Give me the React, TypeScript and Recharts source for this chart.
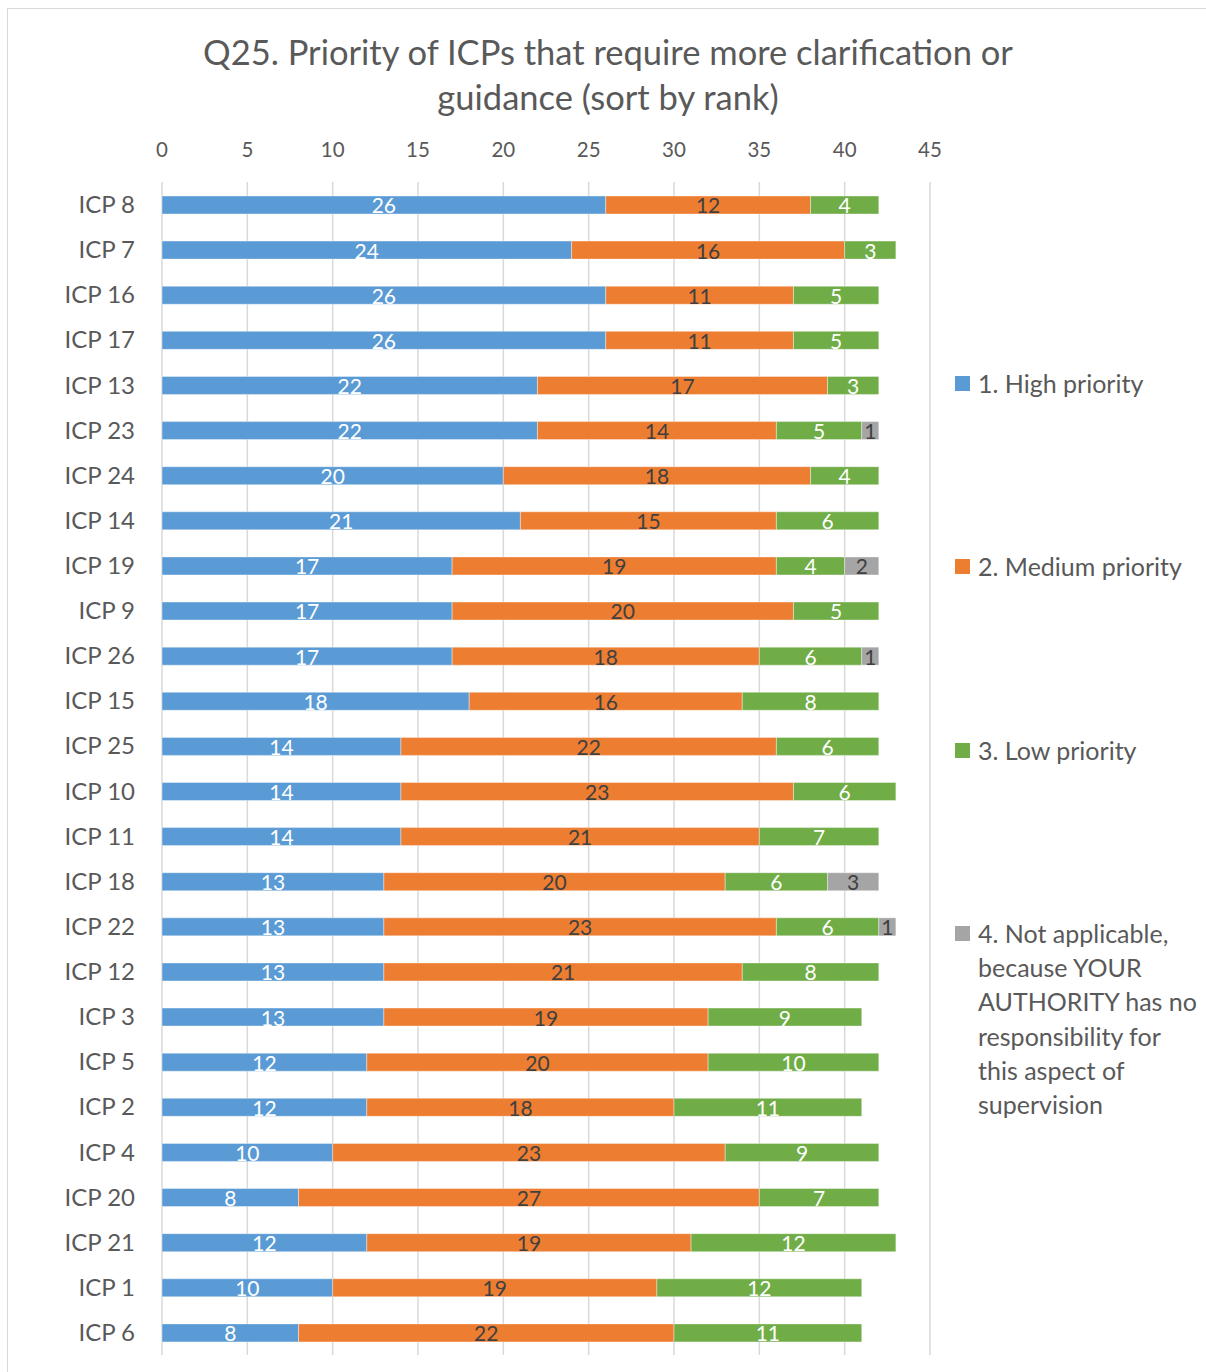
import React from "react";
import {
  BarChart,
  Bar,
  XAxis,
  YAxis,
  CartesianGrid,
  LabelList,
} from "recharts";

const categories = [
  "ICP 8", "ICP 7", "ICP 16", "ICP 17", "ICP 13", "ICP 23", "ICP 24",
  "ICP 14", "ICP 19", "ICP 9", "ICP 26", "ICP 15", "ICP 25", "ICP 10",
  "ICP 11", "ICP 18", "ICP 22", "ICP 12", "ICP 3", "ICP 5", "ICP 2",
  "ICP 4", "ICP 20", "ICP 21", "ICP 1", "ICP 6",
];
const high = [26, 24, 26, 26, 22, 22, 20, 21, 17, 17, 17, 18, 14, 14, 14, 13, 13, 13, 13, 12, 12, 10, 8, 12, 10, 8];
const medium = [12, 16, 11, 11, 17, 14, 18, 15, 19, 20, 18, 16, 22, 23, 21, 20, 23, 21, 19, 20, 18, 23, 27, 19, 19, 22];
const low = [4, 3, 5, 5, 3, 5, 4, 6, 4, 5, 6, 8, 6, 6, 7, 6, 6, 8, 9, 10, 11, 9, 7, 12, 12, 11];
const notApplicable = [0, 0, 0, 0, 0, 1, 0, 0, 2, 0, 1, 0, 0, 0, 0, 3, 1, 0, 0, 0, 0, 0, 0, 0, 0, 0];
const xTicks = [0, 5, 10, 15, 20, 25, 30, 35, 40, 45];

const series = [
  { key: "high", lines: ["1. High priority"], color: "#5b9bd5", text: "#ffffff" },
  { key: "medium", lines: ["2. Medium priority"], color: "#ed7d31", text: "#404040" },
  { key: "low", lines: ["3. Low priority"], color: "#70ad47", text: "#ffffff" },
  {
    key: "na",
    lines: [
      "4. Not applicable,",
      "because YOUR",
      "AUTHORITY has no",
      "responsibility for",
      "this aspect of",
      "supervision",
    ],
    color: "#a5a5a5",
    text: "#404040",
  },
];

const rows = categories.map((name, i) => ({
  name,
  high: high[i],
  medium: medium[i],
  low: low[i],
  na: notApplicable[i],
}));

const FONT = "Lato, 'Open Sans', sans-serif";
const GREY = "#595959";

const legendTops = [366, 549, 733, 916];

export default function App() {
  return (
    <div
      style={{
        position: "absolute",
        left: 0,
        top: 0,
        width: 1206,
        height: 1372,
        background: "#fff",
        overflow: "hidden",
        fontFamily: FONT,
      }}
    >
      <div
        style={{
          position: "absolute",
          left: 7,
          top: 8,
          width: 1220,
          height: 1400,
          border: "1px solid #d9d9d9",
        }}
      />
      <div
        style={{
          position: "absolute",
          left: 0,
          width: 1216,
          top: 29,
          textAlign: "center",
          color: GREY,
          fontSize: 34.5,
          lineHeight: "45px",
        }}
      >
        Q25. Priority of ICPs that require more clarification or
        <br />
        guidance (sort by rank)
      </div>

      <div style={{ position: "absolute", left: 0, top: 0 }}>
        <BarChart
          width={1206}
          height={1372}
          data={rows}
          layout="vertical"
          barSize={18}
          margin={{ top: 152, right: 276, bottom: 17, left: 0 }}
        >
          <CartesianGrid horizontal={false} stroke="#d9d9d9" strokeWidth={1.5} />
          <XAxis
            type="number"
            orientation="top"
            domain={[0, 45]}
            ticks={xTicks}
            height={30}
            axisLine={false}
            tickLine={false}
            tickSize={0}
            tickMargin={25}
            tick={{ fill: GREY, fontSize: 20.5, fontFamily: FONT }}
          />
          <YAxis
            type="category"
            dataKey="name"
            width={162}
            axisLine={false}
            tickLine={false}
            tickSize={0}
            tickMargin={27}
            tick={{ fill: GREY, fontSize: 24, fontFamily: FONT }}
          />
          {series.map((s) => (
            <Bar
              key={s.key}
              dataKey={s.key}
              stackId="a"
              fill={s.color}
              stroke="#ffffff"
              strokeOpacity={0.5}
              strokeWidth={0.75}
              isAnimationActive={false}
            >
              <LabelList
                dataKey={s.key}
                position="center"
                formatter={(v: number) => (v ? v : "")}
                fill={s.text}
                fontSize={21}
                fontFamily={FONT}
                dy={1}
              />
            </Bar>
          ))}
        </BarChart>
      </div>

      {series.map((s, i) => (
        <div
          key={s.key}
          style={{
            position: "absolute",
            left: 955,
            top: legendTops[i],
            color: GREY,
            fontSize: 25,
            lineHeight: "34.2px",
            whiteSpace: "nowrap",
          }}
        >
          <span
            style={{
              position: "absolute",
              left: 0,
              top: 10,
              width: 15,
              height: 15,
              background: s.color,
            }}
          />
          <div style={{ marginLeft: 23 }}>
            {s.lines.map((l) => (
              <div key={l}>{l}</div>
            ))}
          </div>
        </div>
      ))}
    </div>
  );
}
